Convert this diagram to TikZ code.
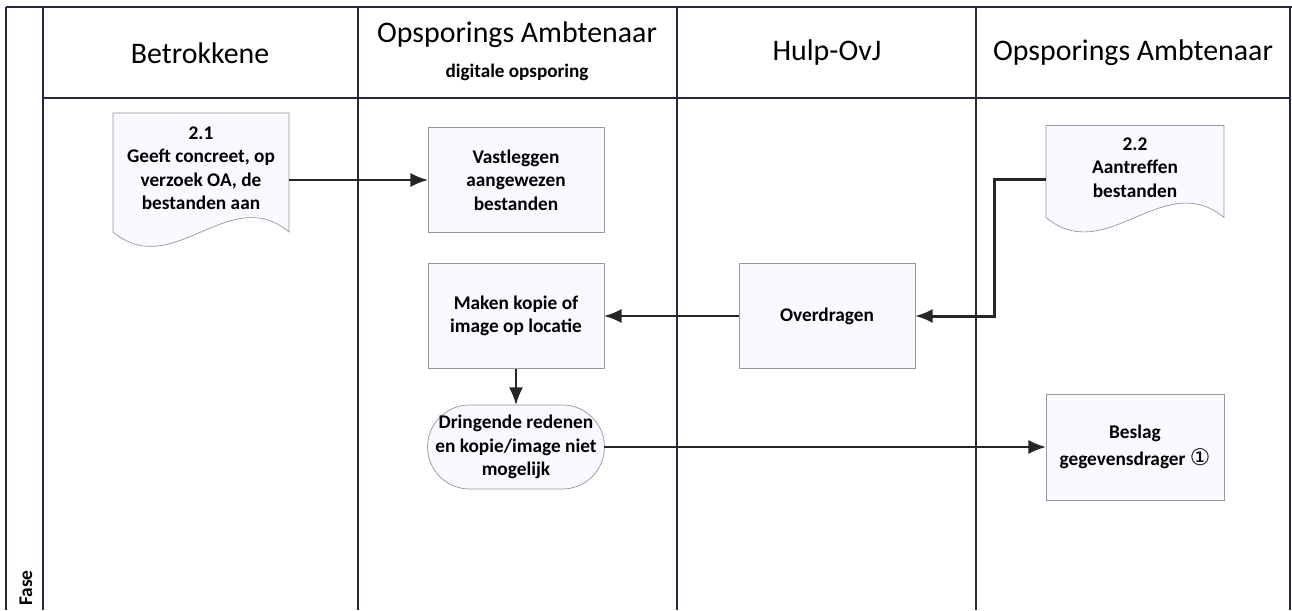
\documentclass[tikz,border=0pt]{standalone}
\usepackage{fontspec}
\setmainfont{Carlito}
\newfontfamily\symfont{DejaVu Sans}
\usepackage{tikz}
\usetikzlibrary{arrows.meta}

\definecolor{lanecol}{RGB}{40,38,60}
\definecolor{boxline}{RGB}{150,150,160}
\definecolor{boxfill}{RGB}{248,250,255}

\newcommand{\wavedoc}[1]{%
  \draw[boxline, fill=boxfill] (#1.north west) -- (#1.north east) -- ([yshift=0.3cm]#1.south east)
    .. controls ([xshift=-1.2cm,yshift=1.3cm]#1.south east) and ([xshift=1.2cm,yshift=-0.7cm]#1.south west)
    .. ([yshift=0.3cm]#1.south west) -- cycle;}

\begin{document}
\begin{tikzpicture}[x=0.02cm, y=-0.02cm,
  lane/.style={draw=lanecol, line width=0.9pt},
  head/.style={font=\fontsize{17}{20}\selectfont},
  boxtext/.style={align=center, font=\bfseries\fontsize{11}{13.3}\selectfont, outer sep=0pt},
  stepbox/.style={boxtext, draw=boxline, fill=boxfill, minimum width=3.52cm, minimum height=2.1cm},
  docbox/.style={boxtext, minimum width=3.52cm},
  flow/.style={-{Latex[length=10pt,width=8pt]}, line width=1.2pt, draw=black!85}]
\useasboundingbox (0,0) rectangle (1292,610);

% swimlanes
\draw[lane] (6,7) -- (1292,7);
\draw[lane] (6,7) -- (6,610);
\draw[lane] (43,98) -- (1290,98);
\draw[lane] (1290,7) -- (1290,610);
\foreach \lx in {43,358,677,976}
  \draw[lane] (\lx,7) -- (\lx,610);

% lane headings
\node[head] (hBetr) at (200,53) {Betrokkene};
\node[head] (hOA) at (517,35) {Opsporings Ambtenaar};
\node[font=\bfseries\fontsize{10.9}{13}\selectfont] (hDig) at (517,72) {digitale opsporing};
\node[head] (hHulp) at (827,53) {Hulp-OvJ};
\node[head] (hOA2) at (1133,53) {Opsporings Ambtenaar};
\node[rotate=90, anchor=west, inner sep=0pt, font=\bfseries\fontsize{11}{13}\selectfont] (fase) at (26,606) {Fase};

% steps
\node[docbox, minimum height=2.68cm] (d21) at (201,180) {};
\wavedoc{d21}
\node[boxtext] at (d21) {2.1\\Geeft concreet, op\\verzoek OA, de\\bestanden aan\\\mbox{}};
\node[stepbox] (vast) at (516,180) {Vastleggen\\aangewezen\\bestanden};
\node[stepbox] (maken) at (516,316) {Maken kopie of\\image op locatie};
\node[stepbox, rounded corners=0.84cm, minimum width=3.54cm, minimum height=1.68cm] (dring) at (516,447) {Dringende redenen\\en kopie/image niet\\mogelijk};
\node[stepbox] (over) at (827,316) {Overdragen};
\node[docbox, minimum width=3.56cm, minimum height=2.14cm] (d22) at (1135,179) {};
\wavedoc{d22}
\node[boxtext] at (d22) {2.2\\Aantreffen\\bestanden\\\mbox{}};
\node[stepbox, minimum width=3.56cm, minimum height=2.12cm, font=\bfseries\fontsize{11}{15.5}\selectfont] (beslag) at (1135,447) {Beslag\\gegevensdrager {\symfont\mdseries\fontsize{13}{15}\selectfont ①}};

% connectors
\coordinate (knik) at (994,179);
\draw[flow] (d21.east) -- (d21.east -| vast.west);
\draw[flow] (maken) -- (dring);
\draw[flow] (over) -- (maken);
\draw[flow] (dring.east) -- (dring.east -| beslag.west);
\draw[flow, line width=1.7pt] (d22.west) -- (knik) |- (over.east);
\end{tikzpicture}
\end{document}
